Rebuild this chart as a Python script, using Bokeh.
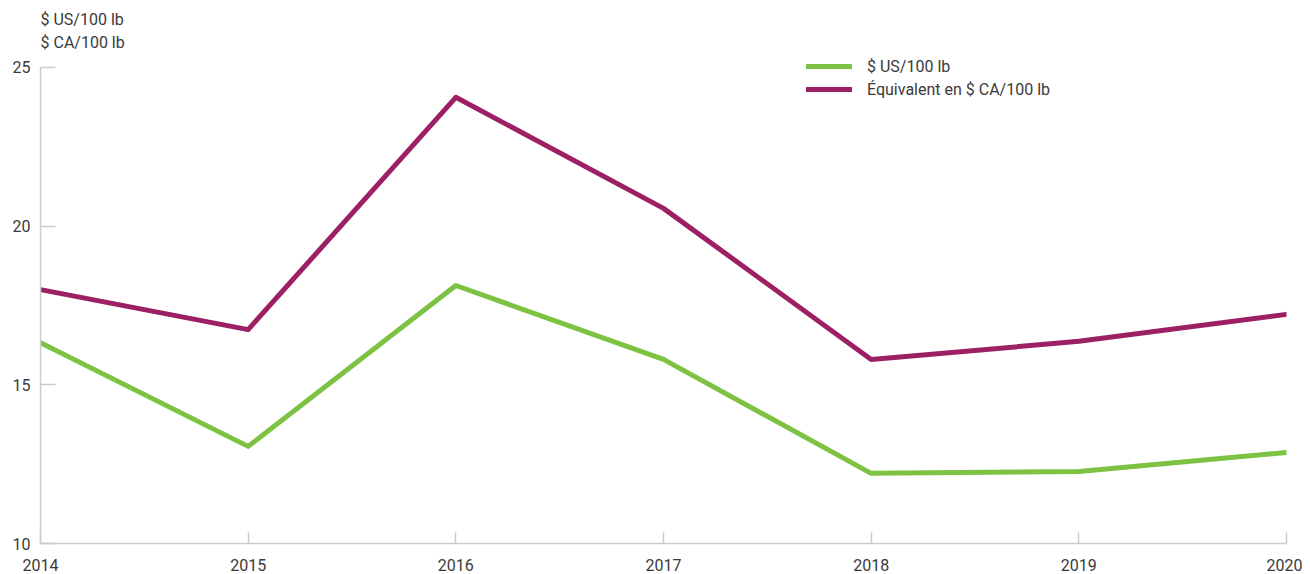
from bokeh.plotting import figure
from bokeh.models import Legend, LegendItem, Label, FixedTicker, Range1d
from bokeh.embed import file_html
from bokeh.resources import INLINE

years = [2014, 2015, 2016, 2017, 2018, 2019, 2020]
usd = [16.33, 13.06, 18.13, 15.80, 12.21, 12.27, 12.87]
cad = [18.00, 16.74, 24.06, 20.56, 15.80, 16.37, 17.22]
y_ticks = [10, 15, 20, 25]
series_names = ["$ US/100 lb", "Équivalent en $ CA/100 lb"]
axis_title = ["$ US/100 lb", "$ CA/100 lb"]

GREEN = "#7dc242"
PURPLE = "#9c2063"
TXT = "#3a3a3a"
AX = "#cccccc"
FONT = "Roboto"

p = figure(width=1302, height=574, output_backend="svg", toolbar_location=None,
           x_range=Range1d(2014, 2020), y_range=Range1d(10, 27.11),
           min_border_left=40, min_border_right=16, min_border_top=0, min_border_bottom=31)
p.outline_line_color = None
p.xgrid.grid_line_color = None
p.ygrid.grid_line_color = None

r1 = p.line(years, usd, line_color=GREEN, line_width=5, line_cap="round", line_join="round")
r2 = p.line(years, cad, line_color=PURPLE, line_width=5, line_cap="round", line_join="round")

for ax in (p.xaxis[0], p.yaxis[0]):
    ax.axis_line_color = AX
    ax.axis_line_width = 1.5
    ax.major_tick_line_color = AX
    ax.major_tick_line_width = 1.5
    ax.minor_tick_line_color = None
    ax.major_tick_out = 0
    ax.major_label_text_font = FONT
    ax.major_label_text_font_size = "16px"
    ax.major_label_text_color = TXT

p.xaxis.ticker = FixedTicker(ticks=years)
p.xaxis.major_tick_in = 11
p.xaxis.major_label_standoff = 15
p.yaxis.ticker = FixedTicker(ticks=y_ticks)
p.yaxis.bounds = (10, 25)
p.yaxis.major_tick_in = 15
p.yaxis.major_label_standoff = 10

legend = Legend(items=[LegendItem(label=series_names[0], renderers=[r1]),
                       LegendItem(label=series_names[1], renderers=[r2])],
                location=(766, 444), border_line_color=None, background_fill_alpha=0,
                label_text_font=FONT, label_text_font_size="16px", label_text_color=TXT,
                glyph_width=46, glyph_height=20, label_standoff=15, spacing=3,
                padding=0, margin=0)
p.add_layout(legend, "center")

p.add_layout(Label(x=2014, y=26.51, text=axis_title[0], text_baseline="middle",
                   text_font=FONT, text_font_size="16px", text_color=TXT))
p.add_layout(Label(x=2014, y=25.79, text=axis_title[1], text_baseline="middle",
                   text_font=FONT, text_font_size="16px", text_color=TXT))

open("out.html", "w").write(file_html(p, INLINE))
